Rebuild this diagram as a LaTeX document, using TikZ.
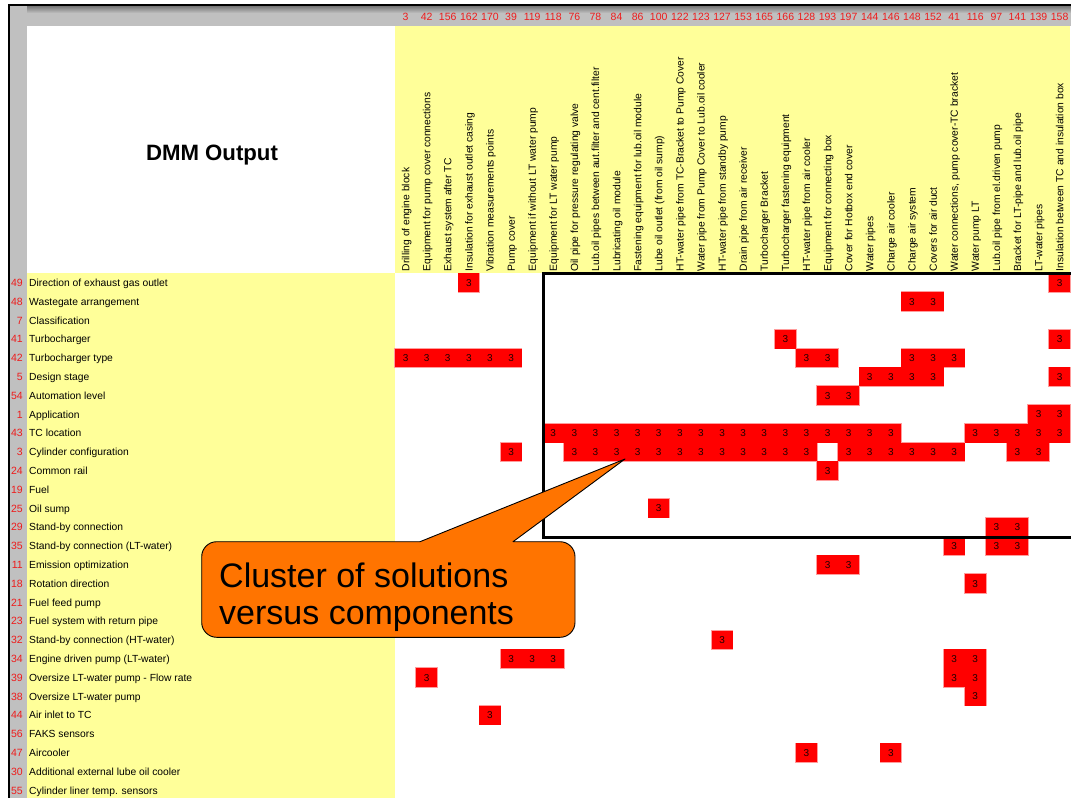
\documentclass[tikz,border=0pt]{standalone}
\usepackage{fontspec}
\setmainfont{Liberation Sans}
\usetikzlibrary{calc}

\definecolor{sheetyellow}{HTML}{FFFF99}
\definecolor{sheetgray}{HTML}{C0C0C0}
\definecolor{sheetdark}{HTML}{767676}
\definecolor{idred}{HTML}{EE1C1C}
\definecolor{cellred}{HTML}{FF0000}
\definecolor{celledge}{HTML}{FF9C9C}
\definecolor{cellink}{HTML}{200000}
\definecolor{calloutorange}{HTML}{FF7400}

\tikzset{
  idnum/.style={font=\fontsize{10.5}{12}\selectfont, text=idred, inner sep=0pt},
  rowlabel/.style={font=\fontsize{10.3}{12}\selectfont, inner sep=0pt, anchor=base west},
  collabel/.style={font=\fontsize{10.3}{12}\selectfont, inner sep=0pt, rotate=90, anchor=base west},
  cellnum/.style={font=\fontsize{10}{11}\selectfont, text=cellink, inner sep=0pt},
  titletext/.style={font=\fontsize{22.2}{26}\selectfont\bfseries, inner sep=0pt, anchor=base},
  callouttext/.style={font=\fontsize{34}{38}\selectfont, inner sep=0pt, anchor=base west},
  clusterbox/.style={draw=black, line width=3pt},
  calloutshape/.style={fill=calloutorange, draw=black, line width=0.9pt, line join=round}
}

% occupied cells of the matrix: column/row
\def\cells{4/1,32/1,
25/2,26/2,
19/4,32/4,
1/5,2/5,3/5,4/5,5/5,6/5,20/5,21/5,25/5,26/5,27/5,
23/6,24/6,25/6,26/6,32/6,
21/7,22/7,
31/8,32/8,
8/9,9/9,10/9,11/9,12/9,13/9,14/9,15/9,16/9,17/9,18/9,19/9,20/9,21/9,22/9,23/9,24/9,28/9,29/9,30/9,31/9,32/9,
6/10,9/10,10/10,11/10,12/10,13/10,14/10,15/10,16/10,17/10,18/10,19/10,20/10,22/10,23/10,24/10,25/10,26/10,27/10,30/10,31/10,
21/11,
13/13,
29/14,30/14,
27/15,29/15,30/15,
21/16,22/16,
28/17,
16/20,
6/21,7/21,8/21,27/21,28/21,
2/22,27/22,28/22,
28/23,
5/24,
20/26,24/26}

\begin{document}
\begin{tikzpicture}[x=1pt,y=-1pt]
\useasboundingbox (0,0) rectangle (1071,798);
\clip (0,0) rectangle (1071,798);
\fill[white] (0,0) rectangle (1071,798);

% sheet frame and header bands
\fill[sheetgray] (10,6) rectangle (1071,25.5);
\shade[top color=sheetdark, bottom color=sheetgray] (10,6) rectangle (1071,13);
\fill[sheetgray] (10,6) rectangle (26.5,798);
\fill[sheetyellow] (395,25.5) rectangle (1070,273.3);
\fill[sheetyellow] (26.5,273.3) rectangle (395,798);
\fill[black] (8,4) rectangle (1071,6);
\fill[black] (8,4) rectangle (10,798);

% title
\node[titletext] (title) at (212,160) {DMM Output};

% component columns: id numbers and rotated names
\foreach \n [count=\i] in {3,42,156,162,170,39,119,118,76,78,84,86,100,122,123,127,153,165,166,128,193,197,144,146,148,152,41,116,97,141,139,158}{
  \pgfmathsetmacro\xc{395+21.1*(\i-0.5)}
  \node[idnum, anchor=base] (cn-\i) at (\xc,20.5) {\n};
}
\foreach \t [count=\i] in {Drilling of engine block,
  Equipment for pump cover connections,
  Exhaust system after TC,
  Insulation for exhaust outlet casing,
  Vibration measurements points,
  Pump cover,
  Equipment if without LT water pump,
  Equipment for LT water pump,
  Oil pipe for pressure regulating valve,
  Lub.oil pipes between aut.filter and cent.filter,
  Lubricating oil module,
  Fastening equipment for lub.oil module,
  Lube oil outlet (from oil sump),
  HT-water pipe from TC-Bracket to Pump Cover,
  Water pipe from Pump Cover to Lub.oil cooler,
  HT-water pipe from standby pump,
  Drain pipe from air receiver,
  Turbocharger Bracket,
  Turbocharger fastening equipment,
  HT-water pipe from air cooler,
  Equipment for connecting box,
  Cover for Hotbox end cover,
  Water pipes,
  Charge air cooler,
  Charge air system,
  Covers for air duct,
  {Water connections, pump cover-TC bracket},
  Water pump LT,
  Lub.oil pipe from el.driven pump,
  Bracket for LT-pipe and lub.oil pipe,
  LT-water pipes,
  Insulation between TC and insulation box}{
  \pgfmathsetmacro\xc{395+21.1*(\i-0.5)}
  \node[collabel] (ch-\i) at (\xc+3.7,271.5) {\t};
}

% solution rows: id numbers and names
\foreach \n/\t [count=\r] in {49/Direction of exhaust gas outlet,
  48/Wastegate arrangement,
  7/Classification,
  41/Turbocharger,
  42/Turbocharger type,
  5/Design stage,
  54/Automation level,
  1/Application,
  43/TC location,
  3/Cylinder configuration,
  24/Common rail,
  19/Fuel,
  25/Oil sump,
  29/Stand-by connection,
  35/Stand-by connection (LT-water),
  11/Emission optimization,
  18/Rotation direction,
  21/Fuel feed pump,
  23/Fuel system with return pipe,
  32/Stand-by connection (HT-water),
  34/Engine driven pump (LT-water),
  39/Oversize LT-water pump - Flow rate,
  38/Oversize LT-water pump,
  44/Air inlet to TC,
  56/FAKS sensors,
  47/Aircooler,
  30/Additional external lube oil cooler,
  55/Cylinder liner temp. sensors}{
  \pgfmathsetmacro\yc{273.3+18.8*(\r-0.5)}
  \node[idnum, anchor=base east] (rn-\r) at (23,\yc+3.7) {\n};
  \node[rowlabel] (rl-\r) at (29,\yc+3.7) {\t};
}

% matrix cells: pale rim first, then the red fill and value
\foreach \c/\r in \cells{
  \pgfmathsetmacro\cl{395+21.1*(\c-1)}
  \pgfmathsetmacro\ct{273.3+18.8*(\r-1)}
  \fill[celledge] (\cl-0.7,\ct-0.7) rectangle ++(22.5,20.2);
}
\foreach \c/\r in \cells{
  \pgfmathsetmacro\cl{395+21.1*(\c-1)}
  \pgfmathsetmacro\ct{273.3+18.8*(\r-1)}
  \fill[cellred] (\cl,\ct) rectangle ++(21.1,18.8);
  \node[cellnum] (cell-\c-\r) at (\cl+10.55,\ct+9.6) {3};
}

% cluster outline
\draw[clusterbox] (543.3,273.5) rectangle (1080,537);

% callout
\draw[calloutshape] (201.7,590) [rounded corners=15pt] -- (201.7,541.7) -- (380,541.7)
  [sharp corners] -- (420,541.7) -- (625,459) -- (513,541.7) -- (540,541.7)
  [rounded corners=15pt] -- (575,541.7) -- (575,637.3) -- (201.7,637.3) -- cycle;
\node[callouttext] (cl1) at (219,587) {Cluster of solutions};
\node[callouttext] (cl2) at (219,624) {versus components};
\end{tikzpicture}
\end{document}
